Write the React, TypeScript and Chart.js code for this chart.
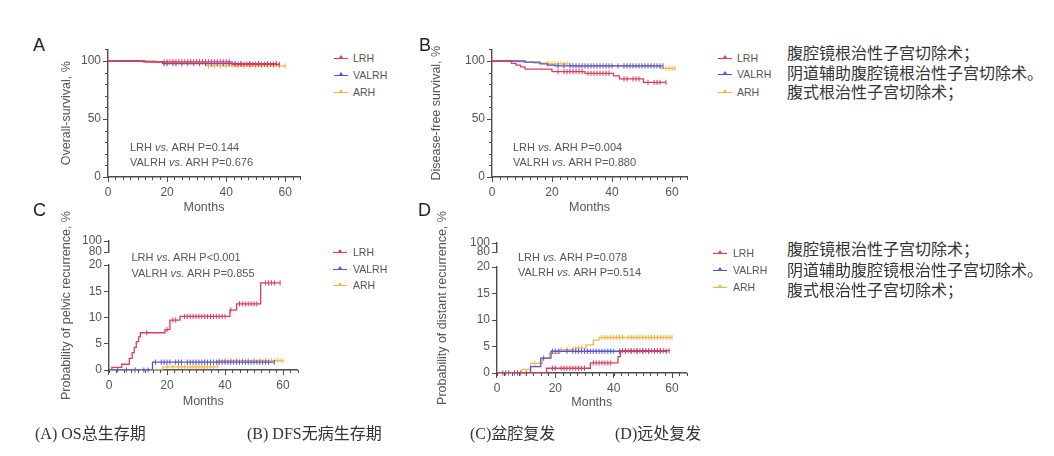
import React, { useEffect, useRef } from 'react';
import { Chart, registerables } from 'chart.js';

Chart.register(...registerables);

const SANS = '"Liberation Sans", Arial, Helvetica, sans-serif';
const CJK = '"Noto Sans CJK SC", "Noto Sans", sans-serif';
const SERIF = '"Liberation Serif", "Times New Roman", "Noto Sans CJK SC", serif';

// ---------- series / legend ----------
const seriesNames = ['LRH', 'VALRH', 'ARH'];
const seriesColors = ['#e03a5f', '#5454d4', '#f4b64c'];
const seriesChinese = ['腹腔镜根治性子宫切除术；', '阴道辅助腹腔镜根治性子宫切除术。', '腹式根治性子宫切除术；'];

const panelLetters = ['A', 'B', 'C', 'D'];
const panelCaptions = ['(A) OS总生存期', '(B) DFS无病生存期', '(C)盆腔复发', '(D)远处复发'];
const yTitles = ['Overall-survival, %', 'Disease-free survival, %', 'Probability of pelvic recurrence, %', 'Probability of distant recurrence, %'];
const xTitle = 'Months';
const pLine1 = [['LRH', 'ARH P=0.144'], ['LRH', 'ARH P=0.004'], ['LRH', 'ARH P<0.001'], ['LRH', 'ARH P=0.078']];
const pLine2 = [['VALRH', 'ARH P=0.676'], ['VALRH', 'ARH P=0.880'], ['VALRH', 'ARH P=0.855'], ['VALRH', 'ARH P=0.514']];

// ---------- A: overall survival (%) ----------
const osLrhTimes = [0, 12.5, 42];
const osLrhValues = [100, 99.3, 97.2];
const osLrhCensored = [19, 20, 21, 22, 23, 24, 25, 26, 27, 28, 29, 30, 31, 32, 33, 34, 35, 36, 37, 38, 39, 40, 41, 43, 44, 45, 46, 47, 48, 49, 50, 51, 52, 53, 54, 55, 56, 58];
const osValrhTimes = [0, 12, 18.5];
const osValrhValues = [100, 99.2, 97.8];
const osValrhCensored = [19, 20, 22, 23, 25, 27, 29, 31, 33, 35, 37, 39, 41, 43, 45, 48, 51, 54, 57];
const osArhTimes = [0, 16, 33.5];
const osArhValues = [100, 98.6, 95.8];
const osArhCensored = [34, 36, 38, 40, 42, 44, 46, 48, 50, 52, 54, 56, 58, 60];

// ---------- B: disease-free survival (%) ----------
const dfsLrhTimes = [0, 6.5, 8, 9.5, 11, 20, 31, 40.5, 42.5, 50.5];
const dfsLrhValues = [100, 98, 96.5, 95, 93, 90.8, 89.4, 87.2, 84.6, 81.6];
const dfsLrhCensored = [22, 24, 25, 26, 27, 28, 29, 30, 32, 33, 34, 35, 36, 37, 38, 39, 44, 45, 47, 48, 49, 52, 54, 55, 56, 58];
const dfsValrhTimes = [0, 11, 16, 18.5, 21];
const dfsValrhValues = [100, 99, 97.5, 96.5, 95.8];
const dfsValrhCensored = [22, 24, 26, 27, 28, 29, 30, 31, 32, 33, 34, 35, 36, 37, 38, 39, 40, 42, 44, 45, 46, 47, 48, 49, 50, 51, 52, 53, 54, 55, 56, 57];
const dfsArhTimes = [0, 9, 14, 18, 26, 56];
const dfsArhValues = [100, 99, 98.2, 97.5, 95.5, 93.7];
const dfsArhCensored = [18.5, 19, 20, 21, 22, 23, 24, 25, 58, 59, 60, 61];

// ---------- C: pelvic recurrence (%) ----------
const pelLrhTimes = [0, 1, 4.4, 7, 8, 8.7, 9.4, 10.2, 10.8, 19.3, 21, 24.5, 41.7, 44, 52.3];
const pelLrhValues = [0, 0.5, 1.1, 2.2, 3.3, 4.3, 5.4, 6.3, 7.1, 7.7, 9.5, 10.2, 11.4, 12.6, 16.6];
const pelLrhCensored = [13, 20, 22, 23, 26, 27, 28, 29, 30, 31, 32, 33, 34, 35, 36, 37, 38, 39, 40, 42, 45, 46, 47, 48, 49, 50, 51, 54, 55, 56, 57, 59];
const pelValrhTimes = [0, 15];
const pelValrhValues = [0, 1.5];
const pelValrhCensored = [3, 6, 9, 12, 13.5, 16, 18, 19, 20, 21, 23, 24, 25, 27, 28, 29, 30, 31, 32, 33, 34, 35, 36, 37, 38, 39, 40, 41, 42, 43, 44, 45, 46, 47, 48, 49, 50, 51, 52, 53, 54, 55, 57];
const pelArhTimes = [0, 18.5, 37.5];
const pelArhValues = [0, 0.6, 1.8];
const pelArhCensored = [20, 22, 24, 25, 26, 27, 28, 29, 30, 31, 32, 33, 34, 35, 36, 38, 40, 42, 44, 46, 48, 50, 52, 54, 56, 58, 59, 60];

// ---------- D: distant recurrence (%) ----------
const disLrhTimes = [0, 17, 32, 41.5, 42.3];
const disLrhValues = [0, 0.9, 1.9, 3.1, 4.2];
const disLrhCensored = [2, 4, 6, 8, 10, 19, 20, 22, 23, 24, 25, 26, 27, 28, 29, 30, 33, 34, 35, 36, 37, 38, 39, 43, 44, 45, 46, 47, 48, 49, 50, 51, 52, 53, 54, 55, 56, 57, 59];
const disValrhTimes = [0, 11.5, 15, 18.5];
const disValrhValues = [0, 1.2, 2.8, 4.1];
const disValrhCensored = [3, 7, 16, 19, 20, 21, 24, 26, 27, 28, 29, 30, 31, 32, 33, 34, 35, 36, 37, 38, 39, 40, 42, 44, 46, 48, 50, 52, 54, 56, 58];
const disArhTimes = [0, 8.5, 11.5, 15.5, 18, 21.5, 26, 30.5, 33, 35];
const disArhValues = [0, 0.7, 1.8, 2.8, 3.7, 4.4, 4.7, 5.3, 6.2, 6.7];
const disArhCensored = [13, 22, 24, 27, 28, 29, 36, 37, 38, 39, 40, 41, 42, 43, 45, 46, 47, 48, 49, 50, 51, 52, 53, 54, 55, 56, 57, 58, 59, 60];

type Series = { times: number[]; values: number[]; censored: number[] };

const panelSeries: Series[][] = [
  [
    { times: osLrhTimes, values: osLrhValues, censored: osLrhCensored },
    { times: osValrhTimes, values: osValrhValues, censored: osValrhCensored },
    { times: osArhTimes, values: osArhValues, censored: osArhCensored },
  ],
  [
    { times: dfsLrhTimes, values: dfsLrhValues, censored: dfsLrhCensored },
    { times: dfsValrhTimes, values: dfsValrhValues, censored: dfsValrhCensored },
    { times: dfsArhTimes, values: dfsArhValues, censored: dfsArhCensored },
  ],
  [
    { times: pelLrhTimes, values: pelLrhValues, censored: pelLrhCensored },
    { times: pelValrhTimes, values: pelValrhValues, censored: pelValrhCensored },
    { times: pelArhTimes, values: pelArhValues, censored: pelArhCensored },
  ],
  [
    { times: disLrhTimes, values: disLrhValues, censored: disLrhCensored },
    { times: disValrhTimes, values: disValrhValues, censored: disValrhCensored },
    { times: disArhTimes, values: disArhValues, censored: disArhCensored },
  ],
];

// ---------- layout (page pixels) ----------
interface PanelLayout {
  left: number; top: number; width: number; height: number;
  padTop: number; padRight: number; yWidth: number; xHeight: number;
  broken: boolean; weights: number[];
}
const layouts: PanelLayout[] = [
  { left: 57, top: 29, width: 255, height: 189, padTop: 20.4, padRight: 12, yWidth: 51, xHeight: 41, broken: false, weights: [] },
  { left: 427, top: 29, width: 272, height: 189, padTop: 20.4, padRight: 12, yWidth: 65, xHeight: 41, broken: false, weights: [] },
  { left: 57, top: 201, width: 253, height: 211, padTop: 40, padRight: 12.5, yWidth: 52, xHeight: 42, broken: true, weights: [11, 13, 105] },
  { left: 433, top: 203, width: 266, height: 210, padTop: 40, padRight: 12.4, yWidth: 64, xHeight: 40, broken: true, weights: [9, 15, 106] },
];

const AXIS = '#4d4d4d';
const TEXT = '#555555';

const minorTicksPlugin = {
  id: 'minorTicks',
  afterDraw(chart: any, _args: any, opts: any) {
    const ctx = chart.ctx;
    ctx.save();
    ctx.strokeStyle = AXIS;
    ctx.lineWidth = 1;
    (opts.axes || []).forEach((a: any) => {
      const s = chart.scales[a.id];
      if (!s) return;
      ctx.beginPath();
      for (let v = s.min; v <= s.max + 1e-6; v += a.step) {
        const p = Math.round(s.getPixelForValue(v)) + 0.5;
        if (s.isHorizontal()) { ctx.moveTo(p, s.top); ctx.lineTo(p, s.top + 3); }
        else { ctx.moveTo(s.right - 3, p); ctx.lineTo(s.right, p); }
      }
      ctx.stroke();
    });
    ctx.restore();
  },
};

function kmDatasets(s: Series, color: string) {
  const last = s.values[s.values.length - 1];
  const end = Math.max(s.times[s.times.length - 1], ...s.censored);
  const line = s.times.map((t, i) => ({ x: t, y: s.values[i] }));
  line.push({ x: end, y: last });
  const valueAt = (t: number) => {
    let v = s.values[0];
    s.times.forEach((tt, i) => { if (tt <= t) v = s.values[i]; });
    return v;
  };
  const marks = s.censored.map((t) => ({ x: t, y: valueAt(t) }));
  return [
    { data: line, borderColor: color, borderWidth: 1.3, stepped: 'before', pointRadius: 0, fill: false, yAxisID: 'y' },
    {
      data: marks, showLine: false, borderColor: color, pointBorderColor: color, pointBackgroundColor: color,
      pointStyle: 'line', rotation: 90, pointRadius: 2.6, pointBorderWidth: 1, clip: false, yAxisID: 'y',
    },
  ];
}

function buildConfig(idx: number): any {
  const L = layouts[idx];
  const datasets: any[] = [];
  panelSeries[idx].forEach((s, i) => datasets.push(...kmDatasets(s, seriesColors[i])));
  const tickFont = { family: SANS, size: 12 };
  const titleFont = { family: SANS, size: 12.5 };
  const grid = { display: true, drawOnChartArea: false, drawTicks: true, tickLength: 5, color: AXIS, lineWidth: 1 };
  const border = { display: true, color: AXIS, width: 1.4 };
  const scales: any = {
    x: {
      type: 'linear', position: 'bottom', min: 0, max: 65,
      ticks: { stepSize: 20, includeBounds: false, autoSkip: false, font: tickFont, color: TEXT, padding: 3, maxRotation: 0 },
      grid, border,
      title: { display: true, text: xTitle, font: titleFont, color: TEXT, padding: { top: 0, bottom: 2.5 } },
      afterFit: (s: any) => { s.height = L.xHeight; },
    },
  };
  if (!L.broken) {
    scales.y = {
      type: 'linear', position: 'left', min: 0, max: 110,
      ticks: { stepSize: 50, includeBounds: false, autoSkip: false, font: tickFont, color: TEXT, padding: 2 },
      grid, border,
      title: { display: true, text: yTitles[idx], font: titleFont, color: TEXT, padding: { top: 2.5, bottom: 0 } },
      afterFit: (s: any) => { s.width = L.yWidth; },
    };
  } else {
    const stackW = L.yWidth - 20;
    scales.yt = {
      type: 'linear', position: 'left', weight: 10,
      ticks: { display: false }, grid: { display: false }, border: { display: false },
      title: { display: true, text: yTitles[idx], font: titleFont, color: TEXT, padding: { top: 2.5, bottom: 0 } },
      afterFit: (s: any) => { s.width = 20; },
    };
    scales.y2 = {
      type: 'linear', position: 'left', weight: 3, stack: 'brk', stackWeight: L.weights[0], min: 80, max: 100,
      ticks: { stepSize: 20, autoSkip: false, font: tickFont, color: TEXT, padding: 2 },
      grid, border,
      afterFit: (s: any) => { s.width = stackW; },
    };
    scales.ygap = {
      type: 'linear', position: 'left', weight: 2, stack: 'brk', stackWeight: L.weights[1],
      ticks: { display: false }, grid: { display: false }, border: { display: false },
      afterFit: (s: any) => { s.width = stackW; },
    };
    scales.y = {
      type: 'linear', position: 'left', weight: 1, stack: 'brk', stackWeight: L.weights[2], min: 0, max: 20,
      ticks: { stepSize: 5, autoSkip: false, font: tickFont, color: TEXT, padding: 2 },
      grid, border,
      afterFit: (s: any) => { s.width = stackW; },
    };
  }
  return {
    type: 'line',
    data: { datasets },
    plugins: [minorTicksPlugin],
    options: {
      responsive: false,
      animation: false,
      events: [],
      layout: { padding: { top: L.padTop, right: L.padRight, left: 0, bottom: 0 } },
      scales,
      plugins: {
        legend: { display: false },
        tooltip: { enabled: false },
        minorTicks: { axes: L.broken ? [{ id: 'x', step: 2.5 }] : [{ id: 'x', step: 2.5 }, { id: 'y', step: 10 }] },
      },
    },
  };
}

function KMChart({ idx }: { idx: number }) {
  const ref = useRef<HTMLCanvasElement>(null);
  const L = layouts[idx];
  useEffect(() => {
    const chart = new Chart(ref.current as HTMLCanvasElement, buildConfig(idx));
    return () => chart.destroy();
  }, [idx]);
  return (
    <canvas
      ref={ref}
      width={L.width}
      height={L.height}
      style={{ position: 'absolute', left: L.left, top: L.top, width: L.width, height: L.height }}
    />
  );
}

function T(props: { x: number; y: number; size: number; family?: string; color?: string; children: any }) {
  const { x, y, size, family = SANS, color = TEXT, children } = props;
  return (
    <div style={{ position: 'absolute', left: x, top: y, transform: 'translateY(-50%)', fontSize: size, fontFamily: family, color, lineHeight: 1, whiteSpace: 'nowrap' }}>
      {children}
    </div>
  );
}

function Key({ x, y, color }: { x: number; y: number; color: string }) {
  return (
    <div style={{ position: 'absolute', left: x, top: y - 4, width: 14, height: 8 }}>
      <div style={{ position: 'absolute', left: 0, width: 14, top: 4, height: 1, background: color }} />
      <div style={{ position: 'absolute', left: 5, top: 1, width: 0, height: 0, borderLeft: '2px solid transparent', borderRight: '2px solid transparent', borderBottom: `3px solid ${color}` }} />
    </div>
  );
}

// text anchor positions (page px)
const letterPos = [[33, 45], [419, 45], [33, 210], [418, 210]];
const pPos = [[130, 146.5, 161.5], [513, 146.5, 161.5], [131.5, 256.5, 272.5], [518, 256.5, 271.5]];
const legendPos = [
  { keyX: 334, textX: 353, rows: [58, 75, 91.5] },
  { keyX: 718, textX: 737, rows: [58, 74, 91.5] },
  { keyX: 333, textX: 353, rows: [251.5, 268.5, 285] },
  { keyX: 713, textX: 733, rows: [253, 270, 286.5] },
];
const chinesePos = [
  { x: 787, rows: [52, 72, 91] },
  { x: 787, rows: [248, 269, 289] },
];
const captionPos = [[35, 434], [247, 434], [470, 434], [615, 434]];

export default function App() {
  return (
    <div style={{ position: 'fixed', left: 0, top: 0, width: 1054, height: 456, background: '#ffffff', overflow: 'hidden' }}>
      {[0, 1, 2, 3].map((i) => <KMChart key={'c' + i} idx={i} />)}
      {panelLetters.map((l, i) => (
        <T key={'l' + i} x={letterPos[i][0]} y={letterPos[i][1]} size={18} color="#222">{l}</T>
      ))}
      {pPos.map((p, i) => (
        <React.Fragment key={'p' + i}>
          <T x={p[0]} y={p[1]} size={11}>{pLine1[i][0]} <i>vs.</i> {pLine1[i][1]}</T>
          <T x={p[0]} y={p[2]} size={11}>{pLine2[i][0]} <i>vs.</i> {pLine2[i][1]}</T>
        </React.Fragment>
      ))}
      {legendPos.map((lg, i) => (
        <React.Fragment key={'g' + i}>
          {seriesNames.map((n, j) => (
            <React.Fragment key={n}>
              <Key x={lg.keyX} y={lg.rows[j]} color={seriesColors[j]} />
              <T x={lg.textX} y={lg.rows[j]} size={10.5}>{n}</T>
            </React.Fragment>
          ))}
        </React.Fragment>
      ))}
      {chinesePos.map((cp, i) => (
        <React.Fragment key={'z' + i}>
          {seriesChinese.map((s, j) => (
            <T key={j} x={cp.x} y={cp.rows[j]} size={16} family={CJK} color="#333">{s}</T>
          ))}
        </React.Fragment>
      ))}
      {panelCaptions.map((c, i) => (
        <T key={'cap' + i} x={captionPos[i][0]} y={captionPos[i][1]} size={16} family={SERIF} color="#333">{c}</T>
      ))}
    </div>
  );
}
